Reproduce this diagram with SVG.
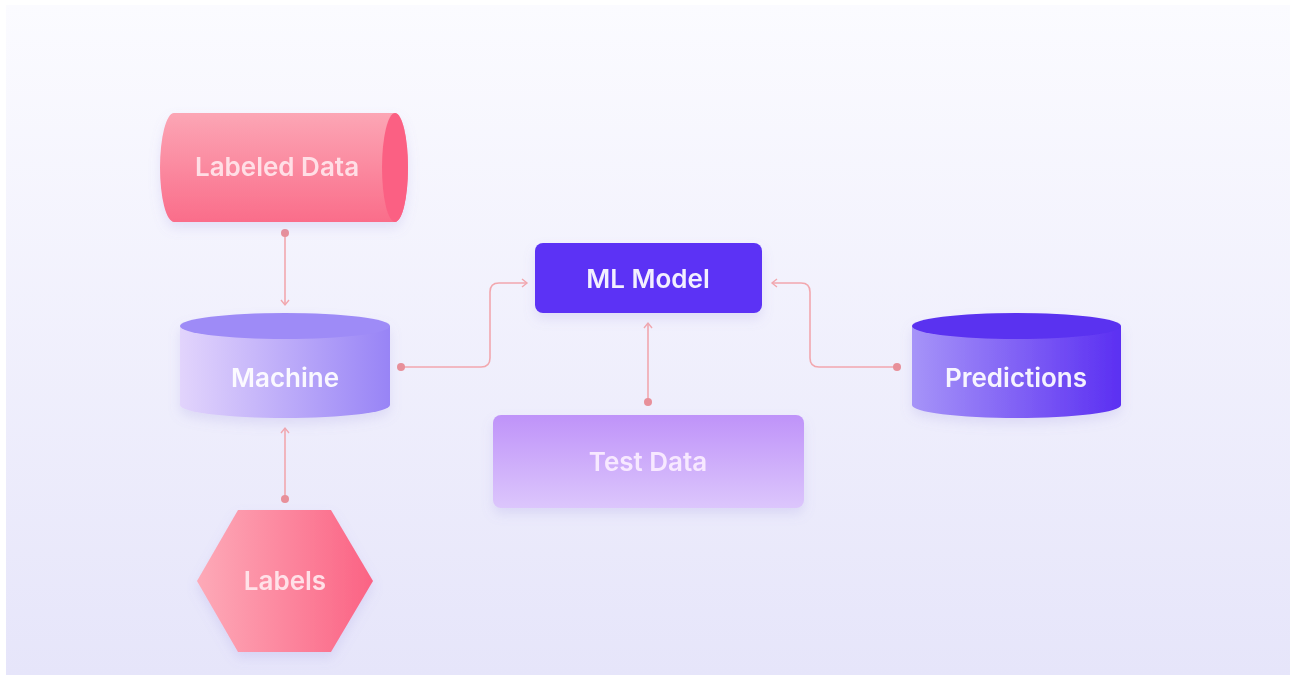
<svg xmlns="http://www.w3.org/2000/svg" width="1292" height="677" viewBox="0 0 1292 677">
<defs>
<style>
.t{font-family:Inter,"Liberation Sans",sans-serif;font-weight:600;font-size:26px;fill:#ffffff;fill-opacity:0.92;text-anchor:middle;dominant-baseline:central}
.c{fill:none;stroke:#f2a7ae;stroke-width:1.6}
.d{fill:#e8909a}
</style>
<linearGradient id="bg" x1="0" y1="0" x2="0" y2="1"><stop offset="0" stop-color="#fbfbff"/><stop offset="1" stop-color="#e6e5fa"/></linearGradient>
<linearGradient id="pinkV" x1="0" y1="0" x2="0" y2="1"><stop offset="0" stop-color="#fca6b5"/><stop offset="1" stop-color="#fa6d8a"/></linearGradient>
<linearGradient id="pinkH" x1="0" y1="0" x2="1" y2="0"><stop offset="0" stop-color="#fdaab8"/><stop offset="1" stop-color="#fb6384"/></linearGradient>
<linearGradient id="machH" x1="0" y1="0" x2="1" y2="0"><stop offset="0" stop-color="#e2d4fc"/><stop offset="1" stop-color="#9884f6"/></linearGradient>
<linearGradient id="predH" x1="0" y1="0" x2="1" y2="0"><stop offset="0" stop-color="#a694f8"/><stop offset="1" stop-color="#5b2ff2"/></linearGradient>
<linearGradient id="testV" x1="0" y1="0" x2="0" y2="1"><stop offset="0" stop-color="#bf93f9"/><stop offset="1" stop-color="#dcc6fc"/></linearGradient>
<filter id="sh" x="-20%" y="-20%" width="140%" height="150%"><feDropShadow dx="0" dy="6" stdDeviation="6" flood-color="#8a7fd8" flood-opacity="0.18"/></filter>
<marker id="ar" markerWidth="10" markerHeight="10" refX="7" refY="5" orient="auto" markerUnits="userSpaceOnUse"><path d="M2,1 L7,5 L2,9" fill="none" stroke="#f2a7ae" stroke-width="1.4"/></marker>
</defs>
<rect x="0" y="0" width="1292" height="677" fill="#ffffff"/>
<rect x="6" y="5" width="1284" height="670" fill="url(#bg)"/>

<g id="connectors">
<path class="c" d="M285,233 V305" marker-end="url(#ar)"/>
<circle class="d" cx="285" cy="233" r="4"/>
<path class="c" d="M285,499 V428" marker-end="url(#ar)"/>
<circle class="d" cx="285" cy="499" r="4"/>
<path class="c" d="M401,367 H481 Q490,367 490,358 V292 Q490,283 499,283 H527" marker-end="url(#ar)"/>
<circle class="d" cx="401" cy="367" r="4"/>
<path class="c" d="M648,402 V323" marker-end="url(#ar)"/>
<circle class="d" cx="648" cy="402" r="4"/>
<path class="c" d="M897,367 H819 Q810,367 810,358 V292 Q810,283 801,283 H772" marker-end="url(#ar)"/>
<circle class="d" cx="897" cy="367" r="4"/>
</g>

<g id="labeled-data" filter="url(#sh)">
<path d="M174,113 H395 A13,54.5 0 0 1 395,222 H174 A14,54.5 0 0 1 174,113 Z" fill="url(#pinkV)"/>
<ellipse cx="395" cy="167.5" rx="13" ry="54.5" fill="#fb6183"/>
<text class="t" x="277" y="166" style="fill:#ffe6ec">Labeled Data</text>
</g>

<g id="machine" filter="url(#sh)">
<path d="M180,326 V405 A105,13 0 0 0 390,405 V326 Z" fill="url(#machH)"/>
<ellipse cx="285" cy="326" rx="105" ry="13" fill="#9e8bf7"/>
<text class="t" x="285" y="377">Machine</text>
</g>

<g id="labels" filter="url(#sh)">
<polygon points="197,581 238,510 331,510 373,581 331,652 238,652" fill="url(#pinkH)"/>
<text class="t" x="285" y="580" style="fill:#ffe8ee">Labels</text>
</g>

<g id="ml-model" filter="url(#sh)">
<rect x="535" y="243" width="227" height="70" rx="8" fill="#5b33f5"/>
<text class="t" x="648" y="278">ML Model</text>
</g>

<g id="test-data" filter="url(#sh)">
<rect x="493" y="415" width="311" height="93" rx="8" fill="url(#testV)"/>
<text class="t" x="648" y="461" style="fill:#fbeeff">Test Data</text>
</g>

<g id="predictions" filter="url(#sh)">
<path d="M912,326 V405 A104.5,13 0 0 0 1121,405 V326 Z" fill="url(#predH)"/>
<ellipse cx="1016.5" cy="326" rx="104.5" ry="13" fill="#5a30f0"/>
<text class="t" x="1016" y="377">Predictions</text>
</g>
</svg>
